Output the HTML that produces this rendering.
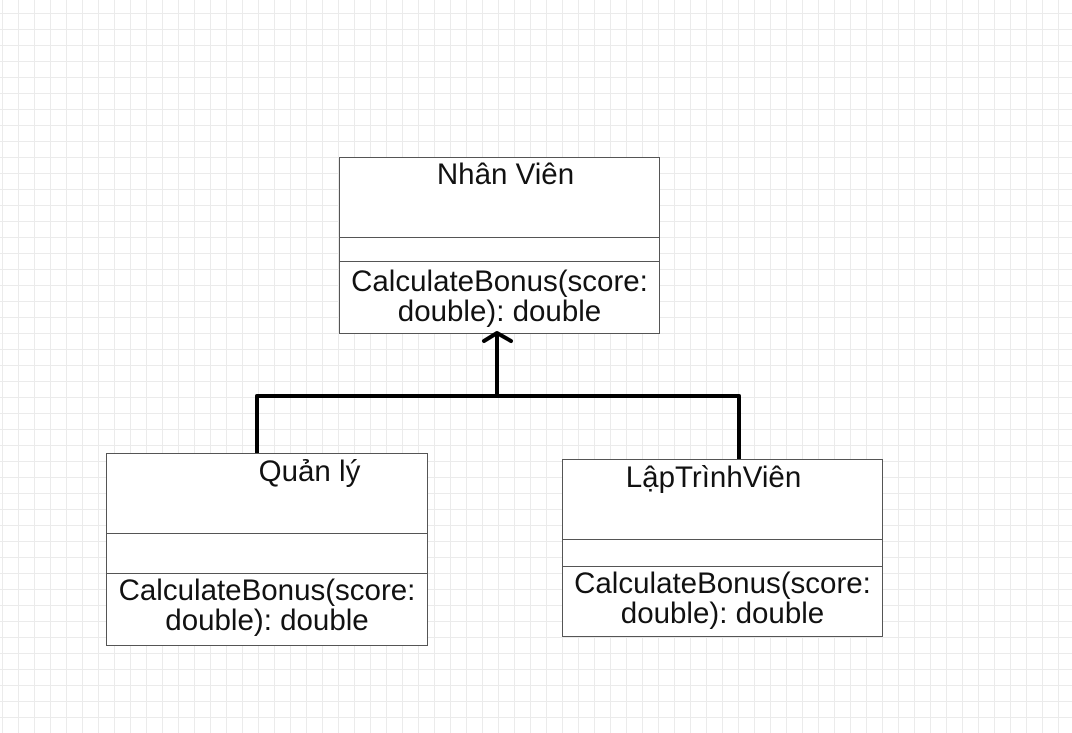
<!DOCTYPE html>
<html><head><meta charset="utf-8"><style>
body{margin:0;width:1072px;height:733px;overflow:hidden;background:#fff;
background-image:linear-gradient(#ebebeb 1px,transparent 1px),linear-gradient(90deg,#ebebeb 1px,transparent 1px);
background-size:16px 16px;background-position:0 13px,2px 0;font-family:"Liberation Sans",sans-serif;}
.b{position:absolute;border:1.5px solid #555;background:#fff;box-sizing:border-box}
.s{position:absolute;left:0;right:0;border-top:1.5px solid #555}
.t{position:absolute;font-size:29.5px;color:#111;text-align:center;line-height:30px;white-space:nowrap}
</style></head><body>
<div class="b" style="left:339px;top:157px;width:321px;height:177px">
<div class="s" style="top:79px"></div><div class="s" style="top:103px"></div>
<div class="t" style="left:12px;right:0;top:2px">Nhân Viên</div>
<div class="t" style="left:0;right:0;top:109px">CalculateBonus(score:<br>double): double</div></div>
<div class="b" style="left:106px;top:453px;width:322px;height:193px">
<div class="s" style="top:79px"></div><div class="s" style="top:119px"></div>
<div class="t" style="left:100px;width:205px;top:3px">Quản lý</div>
<div class="t" style="left:0;right:0;top:122px">CalculateBonus(score:<br>double): double</div></div>
<div class="b" style="left:562px;top:459px;width:321px;height:178px">
<div class="s" style="top:79px"></div><div class="s" style="top:106px"></div>
<div class="t" style="left:0;right:18px;top:3px">LậpTrìnhViên</div>
<div class="t" style="left:0;right:0;top:109px">CalculateBonus(score:<br>double): double</div></div>
<svg width="1072" height="733" style="position:absolute;left:0;top:0">
<g stroke="#000" stroke-width="4" fill="none" stroke-linecap="round" stroke-linejoin="round">
<path d="M497 335V396M257 453V396H739V459" stroke-linecap="butt"/>
<path d="M484 341L497 333L511 341"/>
</g></svg>
</body></html>
